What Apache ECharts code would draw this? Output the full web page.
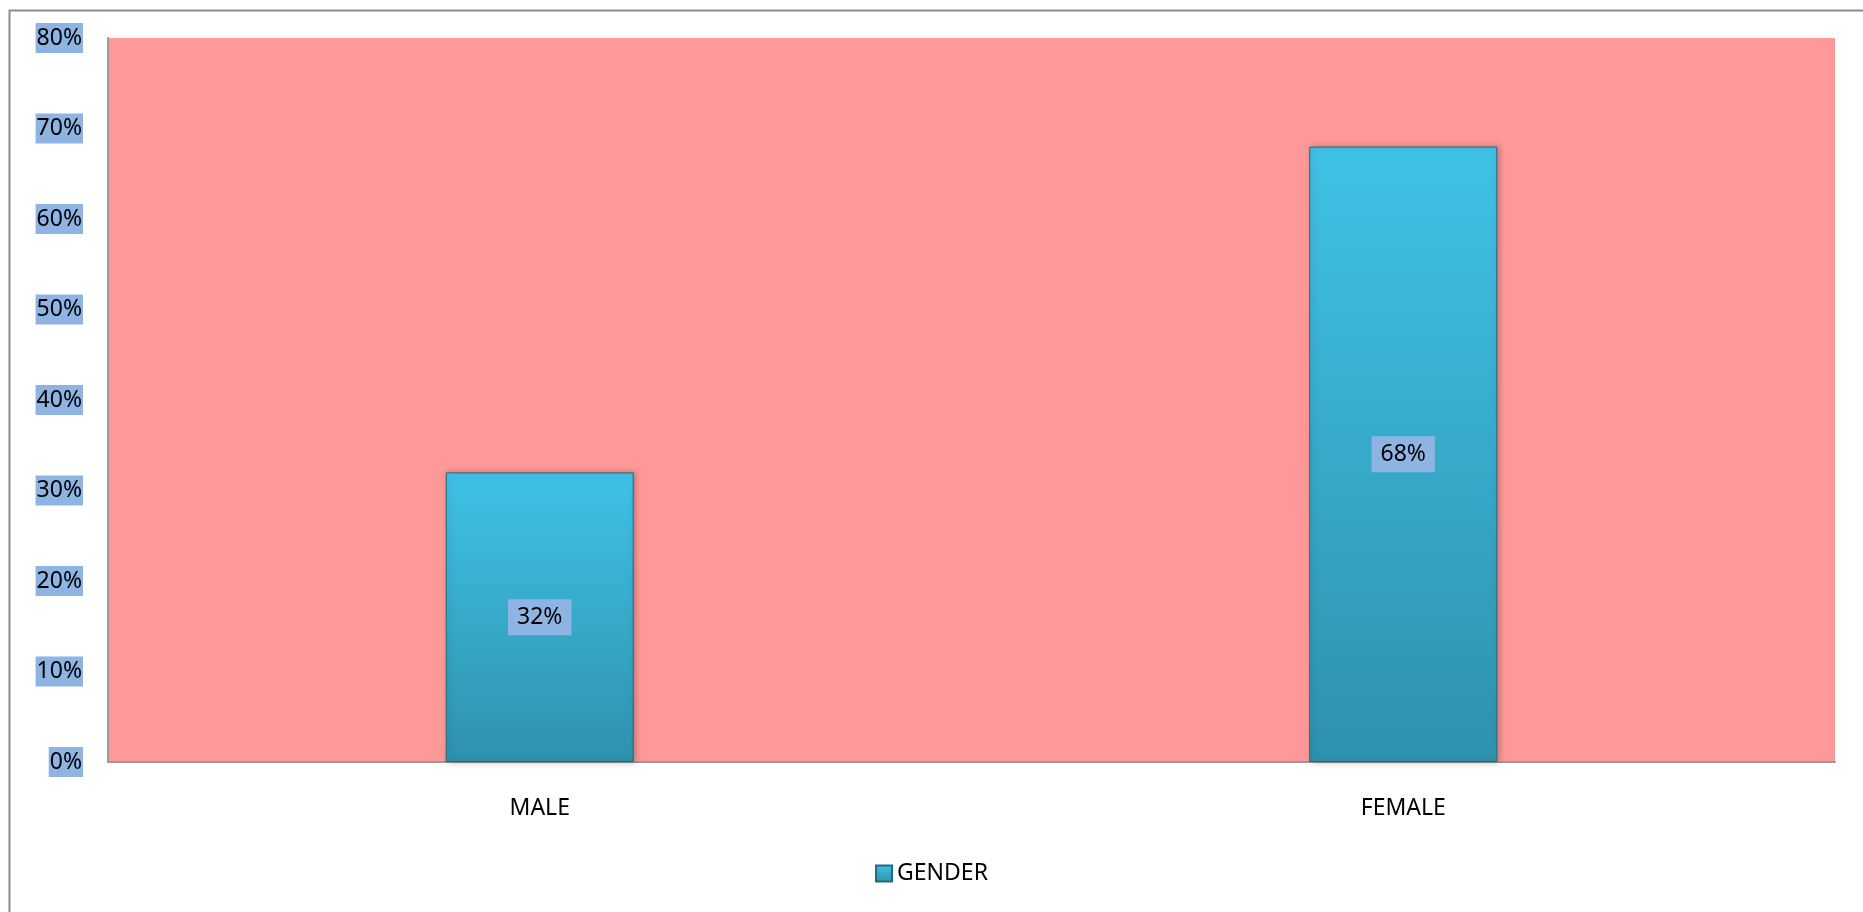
<!DOCTYPE html>
<html>
<head>
<meta charset="utf-8">
<style>
  html, body { margin: 0; padding: 0; background: #ffffff; }
  #chart { width: 1863px; height: 912px; }
</style>
<script src="https://cdn.jsdelivr.net/npm/echarts@6/dist/echarts.min.js"></script>
</head>
<body>
<div id="chart"></div>
<script>
const categories = ['MALE', 'FEMALE'];
const seriesName = 'GENDER';
const values = [32, 68];
const yTicks = [0, 10, 20, 30, 40, 50, 60, 70, 80];

const FONT = '"Noto Sans", "Open Sans", sans-serif';
const FS = 23;
const chart = echarts.init(document.getElementById('chart'), null, { renderer: 'canvas' });

const barGradient = new echarts.graphic.LinearGradient(0, 0, 0, 1, [
  { offset: 0, color: '#40c1e7' },
  { offset: 1, color: '#2e92ad' }
]);

chart.setOption({
  animation: false,
  backgroundColor: '#ffffff',
  textStyle: { fontFamily: FONT },
  graphic: [
    {
      type: 'rect',
      left: 7, top: 8,
      shape: { width: 1870, height: 920 },
      style: { fill: 'none', stroke: '#8c8c8c', lineWidth: 2 },
      z: -10
    }
  ],
  grid: {
    left: 108, top: 38, right: 28, bottom: 150,
    show: true,
    backgroundColor: '#ff9999',
    borderWidth: 0
  },
  legend: {
    data: [seriesName],
    bottom: 22,
    left: 'center',
    icon: 'rect',
    itemWidth: 16,
    itemHeight: 16,
    itemGap: 6,
    textStyle: { fontFamily: FONT, fontSize: FS, color: '#000000' }
  },
  xAxis: {
    type: 'category',
    data: categories,
    axisLine: { show: true, lineStyle: { color: '#999999', width: 2 } },
    axisTick: { show: false },
    axisLabel: { margin: 35, fontSize: FS, color: '#000000', fontFamily: FONT },
    splitLine: { show: false }
  },
  yAxis: {
    type: 'value',
    min: yTicks[0],
    max: yTicks[yTicks.length - 1],
    interval: 10,
    axisLine: { show: true, lineStyle: { color: '#999999', width: 2 } },
    axisTick: { show: false },
    splitLine: { show: false },
    axisLabel: {
      formatter: v => v + '%',
      margin: 25,
      fontSize: FS,
      color: '#000000',
      fontFamily: FONT,
      backgroundColor: '#8db4e2',
      padding: [4, 1, 3, 1]
    }
  },
  series: [
    {
      name: seriesName,
      type: 'bar',
      data: values,
      barWidth: 188,
      itemStyle: {
        color: barGradient,
        borderColor: '#1f6a7e',
        borderWidth: 1,
        shadowColor: 'rgba(0,0,0,0.25)',
        shadowBlur: 6,
        shadowOffsetX: 2,
        shadowOffsetY: 0
      },
      label: {
        show: true,
        position: 'inside',
        formatter: p => p.value + '%',
        fontSize: FS,
        color: '#000000',
        fontFamily: FONT,
        backgroundColor: '#8db4e2',
        padding: [7, 9, 6, 9]
      }
    }
  ]
});
</script>
</body>
</html>
